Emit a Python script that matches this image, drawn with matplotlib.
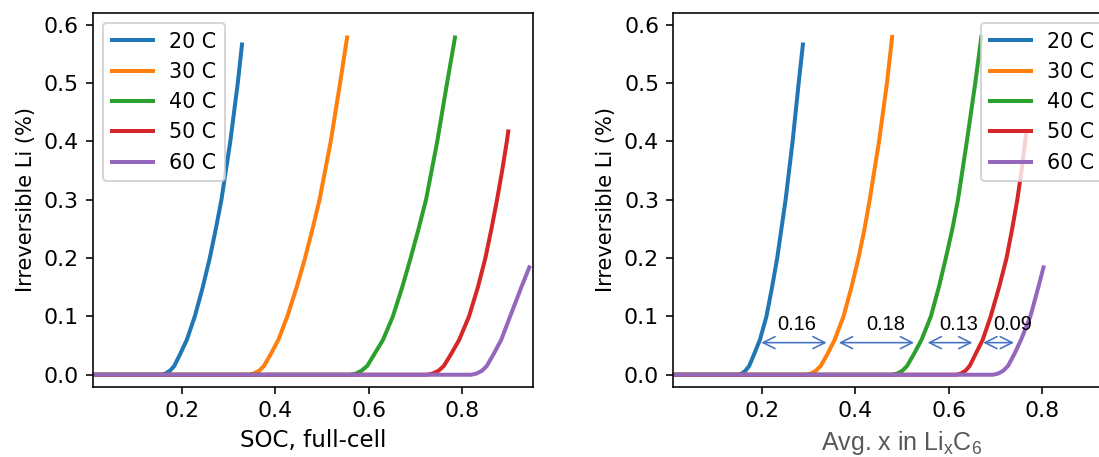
import matplotlib.pyplot as plt

# --------------------------------------------------
# DATA
# --------------------------------------------------

labels = ["20 C", "30 C", "40 C", "50 C", "60 C"]
colors = ["tab:blue", "tab:orange", "tab:green", "tab:red", "tab:purple"]

# left panel: SOC of the full cell
soc_x = [
    [0.0, 0.155, 0.165, 0.175, 0.184, 0.197, 0.211, 0.228, 0.245, 0.260, 0.273, 0.285, 0.304, 0.320, 0.329],
    [0.0, 0.343, 0.354, 0.366, 0.376, 0.391, 0.407, 0.426, 0.446, 0.464, 0.480, 0.495, 0.519, 0.539, 0.554],
    [0.0, 0.560, 0.573, 0.585, 0.597, 0.613, 0.631, 0.652, 0.672, 0.690, 0.707, 0.723, 0.747, 0.768, 0.785],
    [0.0, 0.725, 0.737, 0.750, 0.761, 0.777, 0.794, 0.815, 0.834, 0.850, 0.863, 0.875, 0.886, 0.896, 0.899],
    [0.0, 0.820, 0.831, 0.843, 0.853, 0.868, 0.884, 0.903, 0.927, 0.944],
]
soc_y = [
    [0, 0, 0.002, 0.007, 0.015, 0.036, 0.06, 0.1, 0.15, 0.2, 0.25, 0.3, 0.4, 0.5, 0.566],
    [0, 0, 0.002, 0.007, 0.015, 0.036, 0.06, 0.1, 0.15, 0.2, 0.25, 0.3, 0.4, 0.5, 0.578],
    [0, 0, 0.002, 0.007, 0.015, 0.036, 0.06, 0.1, 0.15, 0.2, 0.25, 0.3, 0.4, 0.5, 0.578],
    [0, 0, 0.002, 0.007, 0.015, 0.036, 0.06, 0.1, 0.15, 0.2, 0.25, 0.3, 0.35, 0.4, 0.417],
    [0, 0, 0.002, 0.007, 0.015, 0.036, 0.06, 0.1, 0.15, 0.184],
]

# right panel: average x in LixC6
lix_x = [
    [0.0, 0.148, 0.157, 0.165, 0.173, 0.184, 0.196, 0.210, 0.222, 0.233, 0.242, 0.251, 0.266, 0.279, 0.288],
    [0.0, 0.294, 0.305, 0.316, 0.326, 0.341, 0.356, 0.375, 0.392, 0.407, 0.420, 0.431, 0.451, 0.468, 0.479],
    [0.0, 0.478, 0.490, 0.501, 0.511, 0.526, 0.542, 0.562, 0.579, 0.594, 0.608, 0.620, 0.639, 0.657, 0.670],
    [0.0, 0.616, 0.626, 0.636, 0.645, 0.658, 0.673, 0.690, 0.708, 0.724, 0.736, 0.747, 0.756, 0.764, 0.766],
    [0.0, 0.695, 0.706, 0.717, 0.727, 0.741, 0.755, 0.775, 0.792, 0.803],
]
lix_y = [
    [0, 0, 0.002, 0.007, 0.015, 0.036, 0.06, 0.1, 0.15, 0.2, 0.25, 0.3, 0.4, 0.5, 0.566],
    [0, 0, 0.002, 0.007, 0.015, 0.036, 0.06, 0.1, 0.15, 0.2, 0.25, 0.3, 0.4, 0.5, 0.579],
    [0, 0, 0.002, 0.007, 0.015, 0.036, 0.06, 0.1, 0.15, 0.2, 0.25, 0.3, 0.4, 0.5, 0.579],
    [0, 0, 0.002, 0.007, 0.015, 0.036, 0.06, 0.1, 0.15, 0.2, 0.25, 0.3, 0.35, 0.4, 0.415],
    [0, 0, 0.002, 0.007, 0.015, 0.036, 0.06, 0.1, 0.15, 0.184],
]

# gaps between neighbouring curves
gap_start = [0.199, 0.365, 0.555, 0.674]
gap_end = [0.339, 0.526, 0.651, 0.740]
gap_text = ["0.16", "0.18", "0.13", "0.09"]
gap_text_x = [0.274, 0.466, 0.621, 0.738]
gap_y = 0.055
gap_text_y = 0.086

# --------------------------------------------------
# FIGURE
# --------------------------------------------------

plt.rcParams["xtick.labelsize"] = 11
plt.rcParams["ytick.labelsize"] = 11
plt.rcParams["legend.fontsize"] = 10.3
plt.rcParams["axes.labelsize"] = 10.5

fig = plt.figure(figsize=(1099 / 144, 457 / 144), dpi=144)
# the right panel runs past the right edge of the picture, as in the reference
ax1 = fig.add_axes([0.0846, 0.1532, 0.4004, 0.8184])
ax2 = fig.add_axes([0.6124, 0.1532, 0.4004, 0.8184])

for xs, ys, lab, c in zip(soc_x, soc_y, labels, colors):
    ax1.plot(xs, ys, color=c, lw=2, label=lab)
for xs, ys, lab, c in zip(lix_x, lix_y, labels, colors):
    ax2.plot(xs, ys, color=c, lw=2, label=lab)

for ax in (ax1, ax2):
    ax.set_xlim(0.01, 0.952)
    ax.set_ylim(-0.021, 0.62)
    ax.set_xticks([0.2, 0.4, 0.6, 0.8])
    ax.set_ylabel("Irreversible Li (%)")
    ax.legend(loc="upper left" if ax is ax1 else "upper right")

ax1.set_xlabel("SOC, full-cell", fontsize=11.5)
ax2.set_xlabel("Avg. x in Li$_\\mathregular{x}$C$_\\mathregular{6}$",
               fontfamily="Liberation Sans", fontsize=12.5, color="#595959", x=0.52)

for x0, x1, t, tx in zip(gap_start, gap_end, gap_text, gap_text_x):
    ax2.annotate("", xy=(x1, gap_y), xytext=(x0, gap_y),
                 arrowprops=dict(arrowstyle="<->,head_length=0.6,head_width=0.3",
                                 color="#4472C4", lw=0.8,
                                 shrinkA=0, shrinkB=0))
    ax2.text(tx, gap_text_y, t, ha="center", va="center",
             fontfamily="Liberation Sans", fontsize=10)

fig.savefig("out.png", dpi=144)
